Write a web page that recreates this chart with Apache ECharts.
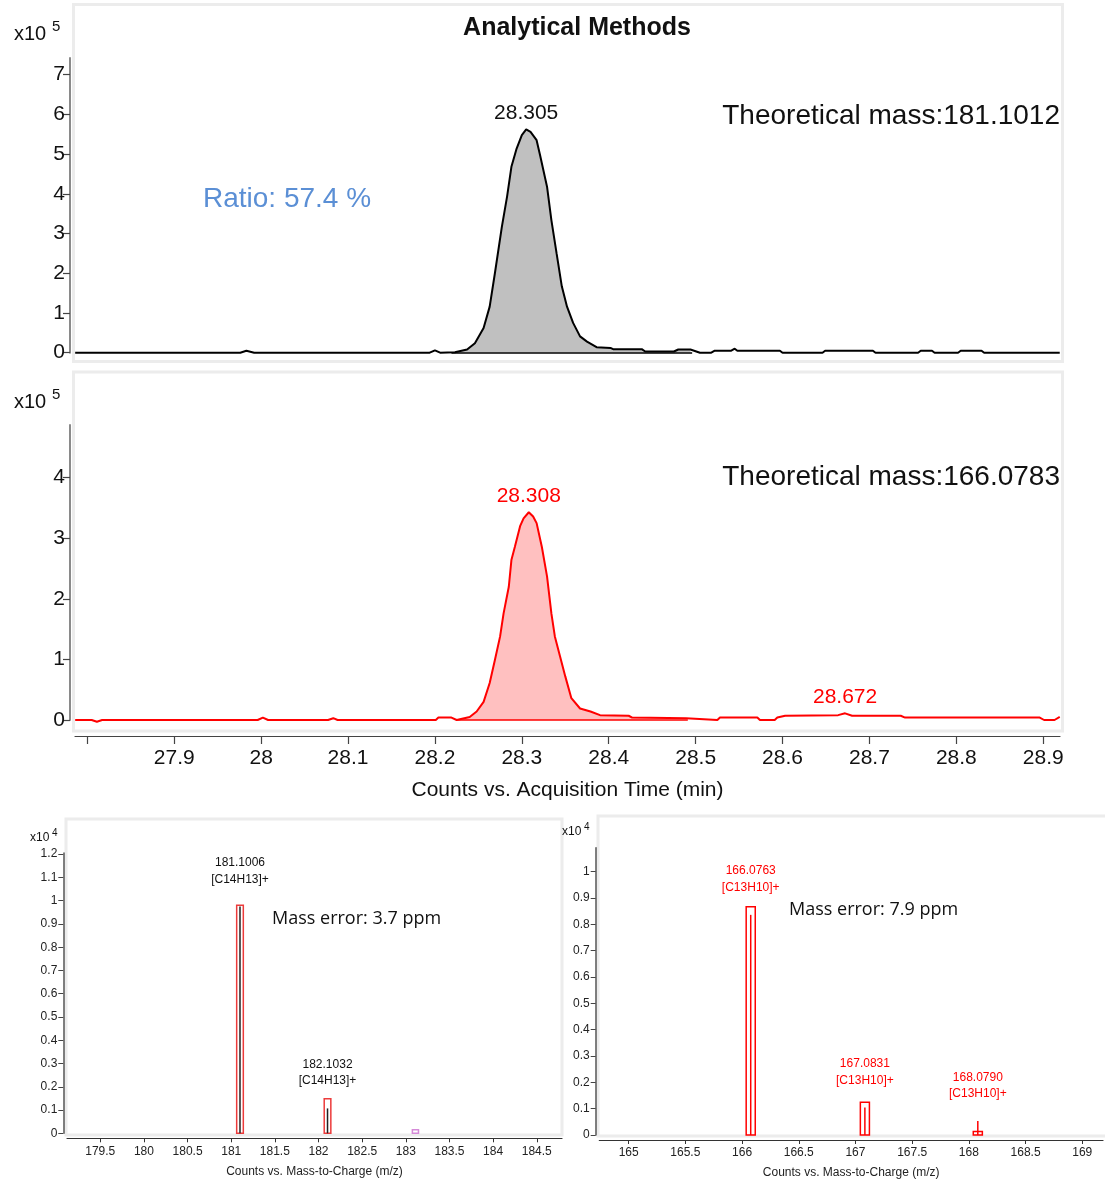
<!DOCTYPE html>
<html>
<head>
<meta charset="utf-8">
<script src="https://cdn.jsdelivr.net/npm/echarts@6/dist/echarts.min.js"></script>
<style>
html,body{margin:0;padding:0;background:#fff}
#chart{width:1105px;height:1189px}
</style>
</head>
<body>
<div id="chart"></div>
<script>
// Extracted ion chromatogram, m/z 181.1012 (retention time in min, counts x10^5)
const eic181 = [
  [27.786,0],[27.976,0],[27.983,0.05],[27.992,0],[28.194,0],[28.200,0.06],[28.206,0],
  [28.223,0.01],[28.237,0.08],[28.246,0.24],[28.256,0.62],[28.263,1.16],[28.269,2.0],
  [28.277,3.17],[28.283,3.93],[28.288,4.68],[28.294,5.14],[28.300,5.48],[28.305,5.62],
  [28.310,5.56],[28.317,5.35],[28.321,4.97],[28.329,4.18],[28.334,3.34],[28.340,2.5],
  [28.346,1.67],[28.352,1.16],[28.359,0.75],[28.367,0.41],[28.375,0.28],[28.386,0.14],
  [28.402,0.12],[28.405,0.09],[28.438,0.09],[28.442,0.03],[28.475,0.03],[28.480,0.08],
  [28.494,0.08],[28.505,0],[28.518,0],[28.522,0.05],[28.541,0.05],[28.545,0.1],
  [28.548,0.05],[28.597,0.05],[28.600,0],[28.646,0],[28.649,0.05],[28.704,0.05],
  [28.707,0],[28.756,0],[28.759,0.05],[28.772,0.05],[28.775,0],[28.802,0],[28.805,0.05],
  [28.829,0.05],[28.832,0],[28.919,0]
];
// Extracted ion chromatogram, m/z 166.0783
const eic166 = [
  [27.786,0],[27.805,0],[27.811,-0.03],[27.817,0],[27.996,0],[28.002,0.04],[28.008,0],
  [28.077,0],[28.083,0.03],[28.088,0],[28.201,0],[28.204,0.04],[28.219,0.04],[28.225,0],
  [28.240,0.05],[28.248,0.14],[28.256,0.30],[28.263,0.61],[28.269,0.99],[28.275,1.38],
  [28.279,1.76],[28.285,2.20],[28.288,2.64],[28.292,2.86],[28.298,3.20],[28.302,3.33],
  [28.308,3.43],[28.313,3.36],[28.317,3.25],[28.323,2.86],[28.329,2.37],[28.334,1.76],
  [28.338,1.38],[28.344,1.05],[28.350,0.72],[28.357,0.36],[28.367,0.19],[28.379,0.14],
  [28.390,0.08],[28.423,0.07],[28.427,0.04],[28.489,0.03],[28.491,0],[28.525,0],
  [28.528,0.04],[28.571,0.04],[28.574,0],[28.591,0],[28.594,0.04],[28.603,0.07],
  [28.664,0.08],[28.672,0.11],[28.680,0.07],[28.736,0.07],[28.741,0.04],[28.896,0.04],
  [28.901,0],[28.913,0],[28.919,0.05]
];
// Labelled apex retention times and integrated ranges
const apex181 = [28.305];
const apex166 = [28.308, 28.672];
const integ181 = [28.219, 28.496];
const integ166 = [28.225, 28.491];

// Chromatogram axis ticks
const rtTicks = [27.8, 27.9, 28, 28.1, 28.2, 28.3, 28.4, 28.5, 28.6, 28.7, 28.8, 28.9];
const rtLabels = [27.9, 28, 28.1, 28.2, 28.3, 28.4, 28.5, 28.6, 28.7, 28.8, 28.9];
const eic181YTicks = [0, 1, 2, 3, 4, 5, 6, 7];
const eic166YTicks = [0, 1, 2, 3, 4];

// Mass spectrum, 181 cluster (counts x10^4): predicted box height and observed stick
const ms181Mz = [181.1006, 182.1032];
const ms181Pred = [0.98, 0.148];
const ms181Obs = [0.975, 0.107];
const ms181Ion = ['[C14H13]+', '[C14H13]+'];
const ms181ExtraMz = [183.11];
const ms181ExtraPred = [0.015];
// Mass spectrum, 166 cluster
const ms166Mz = [166.0763, 167.0831, 168.0790];
const ms166Pred = [0.867, 0.124, 0.013];
const ms166Obs = [0.836, 0.104, 0.053];
const ms166Ion = ['[C13H10]+', '[C13H10]+', '[C13H10]+'];

const ms181XTicks = [179.5, 180, 180.5, 181, 181.5, 182, 182.5, 183, 183.5, 184, 184.5];
const ms181YTicks = [0, 0.1, 0.2, 0.3, 0.4, 0.5, 0.6, 0.7, 0.8, 0.9, 1, 1.1, 1.2];
const ms166XTicks = [165, 165.5, 166, 166.5, 167, 167.5, 168, 168.5, 169];
const ms166YTicks = [0, 0.1, 0.2, 0.3, 0.4, 0.5, 0.6, 0.7, 0.8, 0.9, 1];

const FONT = '"Liberation Sans", Arial, sans-serif';
const RT_MIN = 27.7858, RT_MAX = 28.9193;

const zip = (a, b, c) => a.map((v, i) => c ? [v, b[i], c[i]] : [v, b[i]]);
const inRange = (data, r) => data.filter(p => p[0] >= r[0] && p[0] <= r[1]);
const apexPoints = (data, times) => times.map(t => data.find(p => Math.abs(p[0] - t) < 1e-9));

function rtYAxis(grid, max, ticks) {
  return {
    gridIndex: grid, type: 'value', min: 0, max: max, offset: 5,
    axisLine: { show: true, onZero: false, lineStyle: { color: '#8a8a8a', width: 2 } },
    axisTick: { show: true, customValues: ticks, length: 7, lineStyle: { color: '#444', width: 1.2 } },
    axisLabel: { customValues: ticks, fontSize: 21, color: '#111', margin: 5, fontFamily: FONT },
    splitLine: { show: false }
  };
}
function msXAxis(grid, min, max, ticks, nameGap) {
  return {
    gridIndex: grid, type: 'value', min: min, max: max, offset: 5,
    axisLine: { show: true, onZero: false, lineStyle: { color: '#333', width: 1.2 } },
    axisTick: { show: true, customValues: ticks, length: 4, lineStyle: { color: '#333' } },
    axisLabel: { customValues: ticks, formatter: v => String(v), fontSize: 12, color: '#222', margin: 7, fontFamily: FONT },
    splitLine: { show: false },
    name: 'Counts vs. Mass-to-Charge (m/z)', nameLocation: 'middle', nameGap: nameGap,
    nameTextStyle: { fontSize: 12, color: '#222', fontFamily: FONT }
  };
}
function msYAxis(grid, max, ticks, offset) {
  return {
    gridIndex: grid, type: 'value', min: 0, max: max, offset: offset,
    axisLine: { show: true, onZero: false, lineStyle: { color: '#555', width: 1.5 } },
    axisTick: { show: true, customValues: ticks, length: 5, lineStyle: { color: '#444' } },
    axisLabel: { customValues: ticks, formatter: v => String(v), fontSize: 12, color: '#222', margin: 6, fontFamily: FONT },
    splitLine: { show: false }
  };
}

// Isotope pattern: outlined box = predicted abundance, stick = observed abundance
function stickRenderer(halfW, boxColor, stickColor, ions, labelColor) {
  return function (params, api) {
    const mz = api.value(0), pred = api.value(1), obs = api.value(2);
    const tl = api.coord([mz - halfW, pred]);
    const br = api.coord([mz + halfW, 0]);
    const base = api.coord([mz, 0]);
    const children = [{
      type: 'rect',
      shape: { x: tl[0], y: tl[1], width: br[0] - tl[0], height: br[1] - tl[1] },
      style: { fill: 'none', stroke: boxColor, lineWidth: 1.5 }
    }];
    if (obs > 0) {
      const top = api.coord([mz, obs]);
      children.push({
        type: 'line',
        shape: { x1: base[0], y1: base[1], x2: top[0], y2: top[1] },
        style: { stroke: stickColor, lineWidth: 1.5 }
      });
      if (ions) {
        children.push({
          type: 'text', x: top[0], y: top[1] - 19,
          style: {
            text: mz.toFixed(4) + '\n' + ions[params.dataIndex],
            align: 'center', verticalAlign: 'bottom', fill: labelColor,
            font: '12px ' + FONT, lineHeight: 16.5
          }
        });
      }
    }
    return { type: 'group', children: children };
  };
}

function text(x, y, str, size, opts) {
  opts = opts || {};
  return {
    type: 'text', x: x, y: y, z: 100,
    style: {
      text: str, fill: opts.color || '#111',
      font: (opts.bold ? 'bold ' : '') + size + 'px ' + (opts.family || FONT),
      align: opts.align || 'left', verticalAlign: 'middle'
    }
  };
}
function frame(x, y, w, h) {
  return { type: 'rect', z: 0, shape: { x: x, y: y, width: w, height: h },
    style: { fill: 'none', stroke: '#ececec', lineWidth: 3 } };
}

// Retention-time label above each apex, read from the apex point itself
function apexSeries(axis, data, times, color) {
  return {
    type: 'scatter', xAxisIndex: axis, yAxisIndex: axis, data: apexPoints(data, times),
    symbolSize: 0, itemStyle: { color: color, opacity: 1 }, silent: true, z: 4,
    label: {
      show: true, position: 'top', distance: 6, formatter: p => p.value[0].toFixed(3),
      fontSize: 21, color: color, fontFamily: FONT, opacity: 1
    },
    emphasis: { disabled: true }
  };
}

const chart = echarts.init(document.getElementById('chart'), null, { renderer: 'canvas' });
chart.setOption({
  animation: false,
  backgroundColor: '#fff',
  grid: [
    { left: 75, right: 45, top: 58, height: 294.7 },
    { left: 75, right: 45, top: 425, height: 295 },
    { left: 67, right: 543, top: 853, height: 280.3 },
    { left: 599.3, right: 2, top: 847.7, height: 287.3 }
  ],
  xAxis: [
    { gridIndex: 0, type: 'value', min: RT_MIN, max: RT_MAX, show: false },
    {
      gridIndex: 1, type: 'value', min: RT_MIN, max: RT_MAX, offset: 16,
      axisLine: { show: true, onZero: false, lineStyle: { color: '#444', width: 1.2 } },
      axisTick: { show: true, customValues: rtTicks, length: 8, lineStyle: { color: '#444', width: 1.2 } },
      axisLabel: { customValues: rtLabels, formatter: v => String(v), fontSize: 21, color: '#111', margin: 12, fontFamily: FONT },
      splitLine: { show: false },
      name: 'Counts vs. Acquisition Time (min)', nameLocation: 'middle', nameGap: 44,
      nameTextStyle: { fontSize: 21, color: '#111', fontFamily: FONT }
    },
    msXAxis(2, 179.119, 184.789, ms181XTicks, 27),
    msXAxis(3, 164.741, 169.183, ms166XTicks, 27)
  ],
  yAxis: [
    rtYAxis(0, 7.42, eic181YTicks),
    rtYAxis(1, 4.87, eic166YTicks),
    msYAxis(2, 1.205, ms181YTicks, 3.7),
    msYAxis(3, 1.091, ms166YTicks, 3.6)
  ],
  series: [
    {
      type: 'line', xAxisIndex: 0, yAxisIndex: 0, data: inRange(eic181, integ181),
      symbol: 'none', lineStyle: { width: 0 }, areaStyle: { color: '#c0c0c0', opacity: 1 }, z: 2,
      silent: true,
      markLine: { symbol: 'none', silent: true, label: { show: false },
        lineStyle: { color: '#000', width: 1.5, type: 'solid' },
        data: [[{ coord: [integ181[0], 0] }, { coord: [integ181[1], 0] }]] }
    },
    {
      type: 'line', xAxisIndex: 0, yAxisIndex: 0, data: eic181, symbol: 'none', clip: false,
      lineStyle: { color: '#000', width: 2 }, z: 3, silent: true
    },
    apexSeries(0, eic181, apex181, '#111111'),
    {
      type: 'line', xAxisIndex: 1, yAxisIndex: 1, data: inRange(eic166, integ166),
      symbol: 'none', lineStyle: { width: 0 }, areaStyle: { color: '#ffc0c0', opacity: 1 }, z: 2,
      silent: true,
      markLine: { symbol: 'none', silent: true, label: { show: false },
        lineStyle: { color: '#ff0000', width: 1.5, type: 'solid' },
        data: [[{ coord: [integ166[0], 0] }, { coord: [integ166[1], 0] }]] }
    },
    {
      type: 'line', xAxisIndex: 1, yAxisIndex: 1, data: eic166, symbol: 'none', clip: false,
      lineStyle: { color: '#ff0000', width: 2 }, z: 3, silent: true
    },
    apexSeries(1, eic166, apex166, '#ff0000'),
    {
      type: 'custom', xAxisIndex: 2, yAxisIndex: 2, silent: true, z: 3,
      data: zip(ms181Mz, ms181Pred, ms181Obs),
      renderItem: stickRenderer(0.038, '#ec3b3b', '#222', ms181Ion, '#111')
    },
    {
      type: 'custom', xAxisIndex: 2, yAxisIndex: 2, silent: true, z: 3,
      data: zip(ms181ExtraMz, ms181ExtraPred, ms181ExtraMz.map(() => 0)),
      renderItem: stickRenderer(0.035, '#d58ad8', '#d58ad8', null, '#111')
    },
    {
      type: 'custom', xAxisIndex: 3, yAxisIndex: 3, silent: true, z: 3,
      data: zip(ms166Mz, ms166Pred, ms166Obs),
      renderItem: stickRenderer(0.04, '#ff0000', '#ff0000', ms166Ion, '#ff0000')
    }
  ],
  graphic: [
    frame(73.5, 4.5, 989, 357),
    frame(73.5, 372, 989, 359),
    frame(66, 819, 496, 316),
    frame(598, 816, 510, 320),
    text(577, 28, 'Analytical Methods', 25, { bold: true, align: 'center' }),
    text(14, 34, 'x10', 20), text(52, 27, '5', 15),
    text(14, 402, 'x10', 20), text(52, 395, '5', 15),
    text(1060, 116, 'Theoretical mass:181.1012', 28, { align: 'right' }),
    text(1060, 477, 'Theoretical mass:166.0783', 28, { align: 'right' }),
    text(203, 199, 'Ratio: 57.4 %', 28, { color: '#5b8fd5' }),
    text(30, 838, 'x10', 12), text(52, 833, '4', 10),
    text(562, 832, 'x10', 12), text(584, 827, '4', 10),
    text(272, 919, 'Mass error: 3.7 ppm', 18, { family: '"Open Sans", "Noto Sans", sans-serif' }),
    text(789, 910, 'Mass error: 7.9 ppm', 18, { family: '"Open Sans", "Noto Sans", sans-serif' })
  ]
});
</script>
</body>
</html>
